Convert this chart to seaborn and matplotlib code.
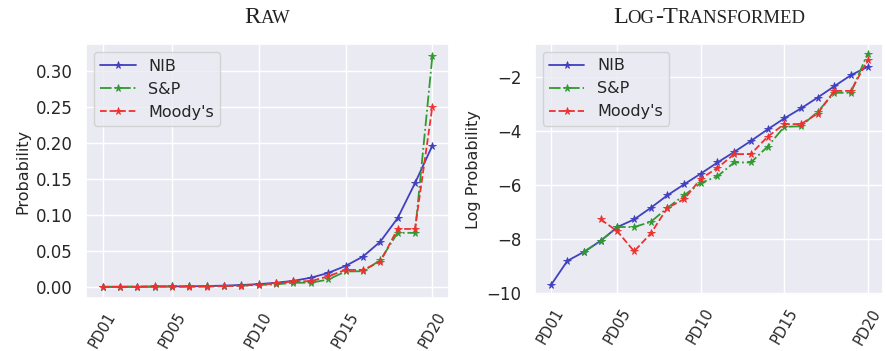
import numpy as np
import pandas as pd
import matplotlib
matplotlib.use("Agg")
import matplotlib.pyplot as plt
import seaborn as sns

categories = [f"PD{i:02d}" for i in range(1, 21)]
tick_labels = ["PD01", "PD05", "PD10", "PD15", "PD20"]

nib = [0.000060, 0.000149, 0.000208, 0.000313, 0.000521, 0.000690, 0.00106, 0.00169,
       0.00253, 0.00377, 0.00568, 0.00839, 0.0126, 0.0193, 0.0290, 0.0420, 0.0627,
       0.0954, 0.144, 0.196]
snp = [0.0, 0.0, 0.000208, 0.000313, 0.000521, 0.000521, 0.000630, 0.00106, 0.00169,
       0.00266, 0.00341, 0.00568, 0.00568, 0.0102, 0.0213, 0.0217, 0.0369, 0.0750,
       0.0750, 0.32]
moodys = [0.0, 0.0, 0.0, 0.00069, 0.000444, 0.000212, 0.00041, 0.00106, 0.00146,
          0.00312, 0.00465, 0.00775, 0.00775, 0.0147, 0.0235, 0.0235, 0.0347, 0.0804,
          0.0804, 0.25]

series = [("NIB", nib, "#4040c0", "-"), ("S&P", snp, "#2f9a2f", "-."),
          ("Moody's", moodys, "#f03030", "--")]

sns.set_theme(style="darkgrid")
plt.rcParams["font.family"] = ["DejaVu Sans"]

fig = plt.figure(figsize=(8.87, 3.51), dpi=100)
ax1 = fig.add_axes([0.097, 0.150, 0.409, 0.724])
ax2 = fig.add_axes([0.603, 0.160, 0.393, 0.715])

for name, vals, col, ls in series:
    v = np.array(vals, dtype=float)
    kw = dict(color=col, linestyle=ls, marker="*", markersize=5.5, markeredgewidth=0.6,
              markeredgecolor=col, markerfacecolor=col, linewidth=1.3, label=name,
              sort=False)
    sns.lineplot(x=categories, y=v, ax=ax1, **kw)
    with np.errstate(divide="ignore"):
        lv = np.where(v > 0, np.log(np.where(v > 0, v, 1)), np.nan)
    df = pd.DataFrame({"x": categories, "y": lv}).dropna()
    sns.lineplot(data=df, x="x", y="y", ax=ax2, **kw)

tick_pos = [categories.index(t) for t in tick_labels]
for ax in (ax1, ax2):
    ax.set_xlim(-0.95, 19.95)
    ax.set_xticks(tick_pos)
    ax.set_xticklabels(tick_labels, rotation=60, fontsize=10.5)
    ax.tick_params(axis="x", pad=2)
    ax.tick_params(axis="y", labelsize=12)
    ax.set_xlabel("")
    leg = ax.legend(loc="upper left", fontsize=11.5, handlelength=2.2)

ax1.set_ylabel("Probability", fontsize=11.5)
ax2.set_ylabel("Log Probability", fontsize=11.5)
ax1.set_yticks([0.0, 0.05, 0.10, 0.15, 0.20, 0.25, 0.30])
ax1.set_yticklabels(["0.00", "0.05", "0.10", "0.15", "0.20", "0.25", "0.30"])
ax1.set_ylim(-0.016, 0.337)
ax2.set_yticks([-2, -4, -6, -8, -10])
ax2.set_ylim(-10.07, -0.78)

# small-caps titles built from pieces
fig.canvas.draw()
renderer = fig.canvas.get_renderer()

def smallcaps_title(ax, word_parts, y=0.935, big=17.5, small=13.5):
    pieces = []
    for txt, is_big in word_parts:
        t = fig.text(0, y, txt, fontsize=big if is_big else small,
                     family="Liberation Serif", va="baseline", color="#222222")
        pieces.append(t)
    widths = [p.get_window_extent(renderer).width for p in pieces]
    total = sum(widths) / fig.bbox.width
    bb = ax.get_position()
    x = (bb.x0 + bb.x1) / 2 - total / 2
    for p, w in zip(pieces, widths):
        p.set_x(x)
        x += w / fig.bbox.width

smallcaps_title(ax1, [("R", True), ("AW", False)])
smallcaps_title(ax2, [("L", True), ("OG", False), ("-T", True), ("RANSFORMED", False)])

fig.savefig("out.png", dpi=100)
